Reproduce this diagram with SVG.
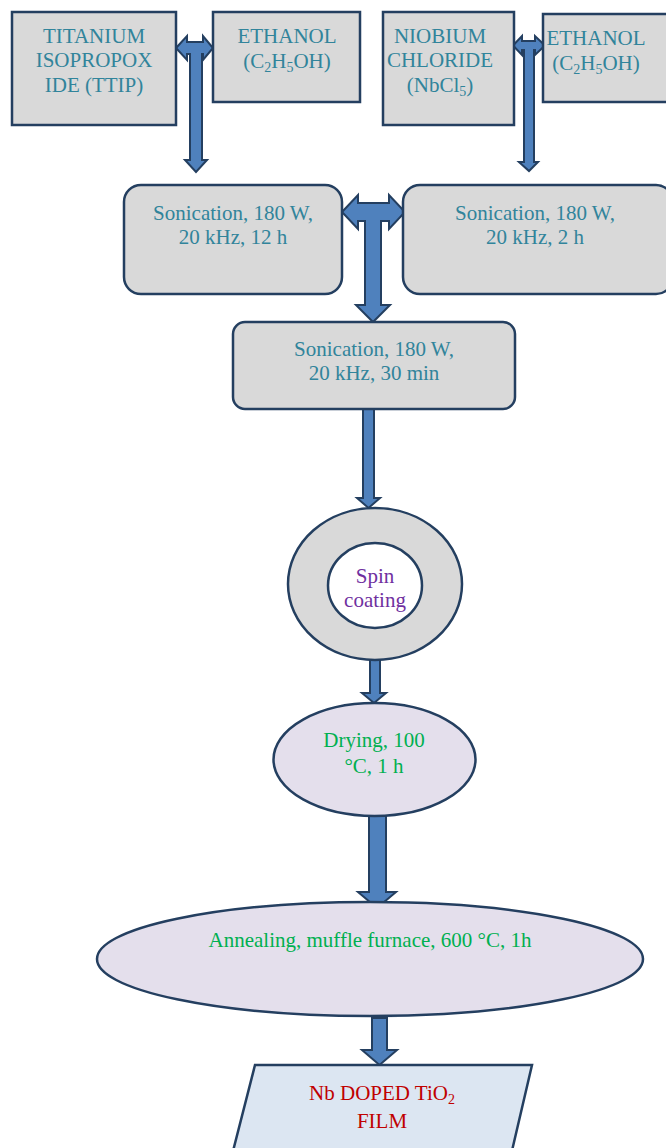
<svg xmlns="http://www.w3.org/2000/svg" width="666" height="1148" viewBox="0 0 666 1148">
<style>
.box{fill:#d9d9d9;stroke:#243f60;stroke-width:2.5}
.ell{fill:#e4dfec;stroke:#243f60;stroke-width:2.5}
.film{fill:#dce6f2;stroke:#243f60;stroke-width:2.5}
.arr{fill:#4f81bd;stroke:#243f60;stroke-width:2;stroke-linejoin:miter}
text{font-family:"Liberation Serif","Times New Roman",serif;font-size:21px;text-anchor:middle}
.teal{fill:#31849b}
.purple{fill:#7030a0}
.green{fill:#00b050}
.red{fill:#c00000}
.sub{font-size:14px}
</style>
<rect width="666" height="1148" fill="#ffffff"/>
<g id="connectors">
<polygon class="arr" points="176,48 187,36 187,42 203,42 203,36 213,48 203,60 203,54 202,54 202,160 207,160 196,172 185,160 190,160 190,54 187,54 187,60"/>
<polygon class="arr" points="513,45.5 522,36 522,41 535,41 535,36 545,45.5 535,55 535,50 534,50 534,162 538,162 529,171 519,162 524,162 524,50 522,50 522,55"/>
<polygon class="arr" points="342,212 358,195 358,203 389,203 389,195 405,212 389,229 389,221 381,221 381,305 390,305 373,322 356,305 365,305 365,221 358,221 358,229"/>
<polygon class="arr" points="363,409 374,409 374,498 380,498 368.5,508 357,498 363,498"/>
<polygon class="arr" points="370,660 380,660 380,693 386,693 374,703 362,693 370,693"/>
<polygon class="arr" points="369,816 386,816 386,892 396,892 377,908 358,892 369,892"/>
<polygon class="arr" points="372,1018 387,1018 387,1050 397,1050 379.5,1065 362,1050 372,1050"/>
</g>
<g id="ttip">
<rect class="box" x="12" y="12" width="164" height="113"/>
<text class="teal" x="94" y="43">TITANIUM</text>
<text class="teal" x="94" y="67">ISOPROPOX</text>
<text class="teal" x="94" y="92">IDE (TTIP)</text>
</g>
<g id="ethanol1">
<rect class="box" x="213" y="12" width="147" height="90"/>
<text class="teal" x="287" y="43">ETHANOL</text>
<text class="teal" x="287" y="68">(C<tspan class="sub" dy="4">2</tspan><tspan dy="-4">H</tspan><tspan class="sub" dy="4">5</tspan><tspan dy="-4">OH)</tspan></text>
</g>
<g id="niobium">
<rect class="box" x="383" y="12" width="131" height="113"/>
<text class="teal" x="440" y="43">NIOBIUM</text>
<text class="teal" x="440" y="67">CHLORIDE</text>
<text class="teal" x="440" y="92">(NbCl<tspan class="sub" dy="4">5</tspan><tspan dy="-4">)</tspan></text>
</g>
<g id="ethanol2">
<rect class="box" x="543" y="14" width="130" height="88"/>
<text class="teal" x="596" y="45">ETHANOL</text>
<text class="teal" x="596" y="70">(C<tspan class="sub" dy="4">2</tspan><tspan dy="-4">H</tspan><tspan class="sub" dy="4">5</tspan><tspan dy="-4">OH)</tspan></text>
</g>
<g id="sonic12">
<rect class="box" x="124" y="185" width="218" height="109" rx="17"/>
<text class="teal" x="233" y="220">Sonication, 180 W,</text>
<text class="teal" x="233" y="244">20 kHz, 12 h</text>
</g>
<g id="sonic2">
<rect class="box" x="403" y="185" width="270" height="109" rx="17"/>
<text class="teal" x="535" y="220">Sonication, 180 W,</text>
<text class="teal" x="535" y="244">20 kHz, 2 h</text>
</g>
<g id="sonic30">
<rect class="box" x="233" y="322" width="282" height="87" rx="12"/>
<text class="teal" x="374" y="356">Sonication, 180 W,</text>
<text class="teal" x="374" y="380">20 kHz, 30 min</text>
</g>
<g id="spin">
<ellipse class="box" cx="375" cy="584" rx="87" ry="76"/>
<ellipse fill="#ffffff" stroke="#243f60" stroke-width="2.5" cx="375" cy="585.5" rx="47" ry="42.5"/>
<text class="purple" x="375" y="583">Spin</text>
<text class="purple" x="375" y="607">coating</text>
</g>
<g id="drying">
<ellipse class="ell" cx="374.5" cy="759.5" rx="101" ry="56.5"/>
<text class="green" x="374" y="747">Drying, 100</text>
<text class="green" x="374" y="773">°C, 1 h</text>
</g>
<g id="annealing">
<ellipse class="ell" cx="370" cy="959" rx="273" ry="57"/>
<text class="green" x="370" y="947">Annealing, muffle furnace, 600 °C, 1h</text>
</g>
<g id="film">
<polygon class="film" points="255,1065 532,1065 511,1155 232,1155"/>
<text class="red" x="382" y="1100">Nb DOPED TiO<tspan class="sub" dy="4">2</tspan></text>
<text class="red" x="382" y="1128">FILM</text>
</g>
</svg>
